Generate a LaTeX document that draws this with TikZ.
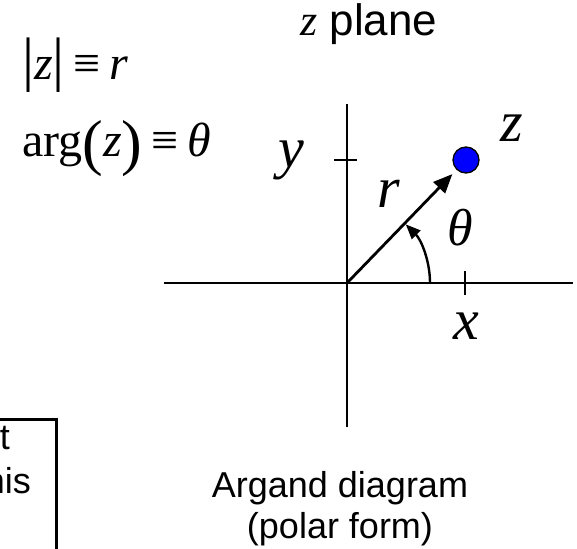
\documentclass[tikz,border=0pt]{standalone}
\usepackage{fontspec}
\setmainfont{Liberation Sans}
\newfontfamily\tms{Liberation Serif}
\usetikzlibrary{arrows.meta}
\tikzset{
    axis/.style={line width=2.4pt},
    vec/.style={line width=2.8pt, -{Triangle[length=19pt,width=16pt]}, shorten >=6pt},
    anglearc/.style={line width=2.4pt, -{Triangle[length=15pt,width=12pt]}},
    var/.style={font=\tms\itshape\fontsize{58}{58}\selectfont, inner sep=0pt},
    eqn/.style={font=\tms\fontsize{48}{48}\selectfont, inner sep=0pt, anchor=base west},
    caption/.style={font=\fontsize{36}{36}\selectfont, inner sep=0pt, anchor=base},
    dot/.style={circle, draw, line width=1.3pt, fill=blue, minimum size=26pt, inner sep=0pt}
}
\newcommand{\bigbar}{{\fontsize{60}{60}\selectfont |}}
\newcommand{\bigpar}[1]{\raisebox{-6pt}{\fontsize{62}{62}\selectfont #1}}
\begin{document}
\begin{tikzpicture}[x=1pt, y=-1pt]
    \useasboundingbox (0,0) rectangle (577,548);
    \clip (0,0) rectangle (577,548);

    % titulo
    \node[anchor=base west, inner sep=0pt, font=\fontsize{44}{44}\selectfont]
        (title) at (300,36) {{\tms\itshape z} plane};

    % definiciones
    \node[eqn] (modz) at (22,80) {\bigbar{\itshape z}\bigbar\hspace{9pt}≡\hspace{9pt}{\itshape r}};
    \node[eqn] (argz) at (22,157)
        {arg\bigpar{(}{\itshape z}\bigpar{)}\hspace{9pt}≡\hspace{9pt}{\itshape θ}};

    % ejes
    \coordinate (O) at (347,283);
    \coordinate (xl) at (164,283);
    \coordinate (xr) at (573,283);
    \coordinate (yt) at (347,104);
    \coordinate (yb) at (347,427);
    \draw[axis] (xl) -- (xr);
    \draw[axis] (yt) -- (yb);
    \draw[axis] (334,160) -- (357,160);
    \draw[axis] (465,271) -- (465,295);

    % punto z y vector
    \node[dot] (pz) at (466,160) {};
    \draw[vec] (O) -- (pz);
    \draw[anglearc] (430,283) arc[start angle=0, end angle=-45, radius=83];

    % etiquetas
    \node[var] (ylab) at (291,160) {y};
    \node[var] (zlab) at (512,128) {z};
    \node[var] (rlab) at (389,194) {r};
    \node[var, font=\tms\itshape\fontsize{52}{52}\selectfont] (thlab) at (460,228) {θ};
    \node[var] (xlab) at (466,326) {x};

    % pie
    \node[caption] (capa) at (340,497) {Argand diagram};
    \node[caption] (capb) at (340,538) {(polar form)};

    % cuadro cortado
    \node[draw, line width=2.8pt, anchor=north east, minimum width=100pt, minimum height=160pt]
        (note) at (58,418) {};
    \node[caption, anchor=base east] (notea) at (10,449) {t};
    \node[caption, anchor=base east] (noteb) at (31,493) {nis};
\end{tikzpicture}
\end{document}
